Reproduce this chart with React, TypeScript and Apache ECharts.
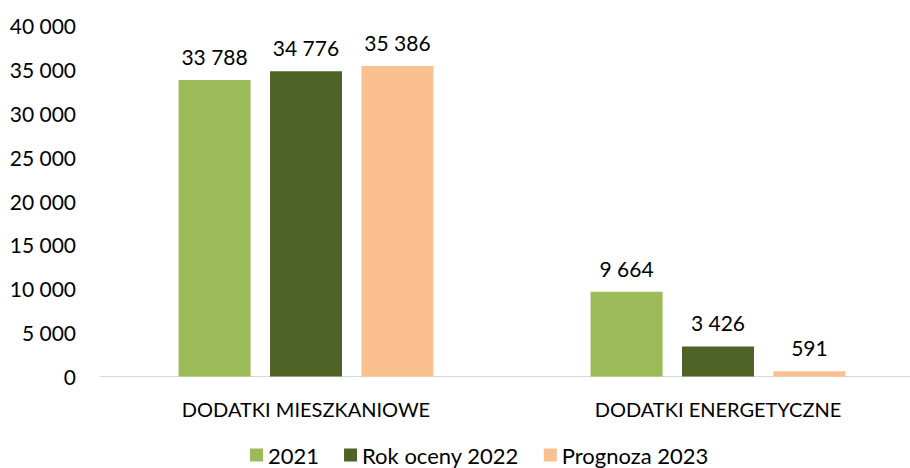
import React, { useEffect, useRef } from "react";
import * as echarts from "echarts";

const categories = ["DODATKI MIESZKANIOWE", "DODATKI ENERGETYCZNE"];
const seriesNames = ["2021", "Rok oceny 2022", "Prognoza 2023"];
const values2021 = [33788, 9664];
const values2022 = [34776, 3426];
const values2023 = [35386, 591];
const colors = ["#9BBB59", "#4F6228", "#FAC090"];

const fmt = (v: number) => String(v).replace(/\B(?=(\d{3})+(?!\d))/g, " ");

export default function App() {
  const ref = useRef<HTMLDivElement>(null);
  useEffect(() => {
    if (!ref.current) return;
    const chart = echarts.init(ref.current, undefined, { renderer: "svg" });
    const font = "Lato, 'Open Sans', sans-serif";
    const data = [values2021, values2022, values2023];
    chart.setOption({
      animation: false,
      textStyle: { fontFamily: font },
      grid: { left: 100, top: 25.5, width: 824, height: 351 },
      legend: {
        left: 250,
        top: 444,
        padding: 0,
        itemWidth: 13,
        itemHeight: 13,
        itemGap: 25,
        icon: "rect",
        textStyle: { fontSize: 22, color: "#000", fontFamily: font },
        data: seriesNames,
      },
      xAxis: {
        type: "category",
        data: categories,
        axisLine: { lineStyle: { color: "#D9D9D9", width: 1 } },
        axisTick: { show: false },
        axisLabel: { fontSize: 20, color: "#000", margin: 22, fontFamily: font },
      },
      yAxis: {
        type: "value",
        min: 0,
        max: 40000,
        interval: 5000,
        splitLine: { show: false },
        axisLine: { show: false },
        axisTick: { show: false },
        axisLabel: {
          fontSize: 21,
          color: "#000",
          margin: 24,
          fontFamily: font,
          formatter: (v: number) => fmt(v),
        },
      },
      series: seriesNames.map((name, i) => ({
        name,
        type: "bar",
        data: data[i],
        barWidth: 72,
        barGap: "27%",
        itemStyle: { color: colors[i] },
        label: {
          show: true,
          position: "top",
          distance: 13,
          fontSize: 21,
          color: "#000",
          fontFamily: font,
          formatter: (p: any) => fmt(p.value),
        },
      })),
    });
    return () => chart.dispose();
  }, []);
  return (
    <div
      style={{ position: "fixed", left: 0, top: 0, width: 910, height: 468, overflow: "hidden", background: "#fff" }}
    >
      <div ref={ref} style={{ width: 930, height: 468 }} />
    </div>
  );
}
